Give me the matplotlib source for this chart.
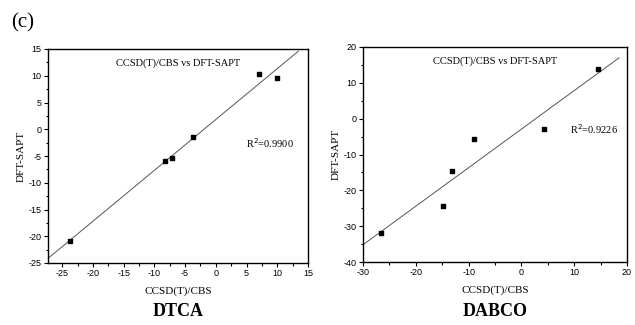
import numpy as np
import matplotlib
matplotlib.use("Agg")
import matplotlib.pyplot as plt
from matplotlib.ticker import MultipleLocator

plt.rcParams["axes.unicode_minus"] = False

# DTCA: CCSD(T)/CBS vs DFT-SAPT
dtca_x = [-23.7, -8.2, -7.2, -3.7, 7.0, 9.9]
dtca_y = [-20.8, -6.0, -5.4, -1.4, 10.4, 9.5]
dtca_r2 = "0.9900"

# DABCO
dabco_x = [-26.5, -14.9, -13.2, -9.0, 4.3, 14.5]
dabco_y = [-32.0, -24.3, -14.7, -5.7, -3.0, 14.0]
dabco_r2 = "0.9226"

serif = "Liberation Serif"
sans = "Liberation Sans"


def draw_panel(ax, x, y, r2, xlim, ylim, xmaj, ymaj, fit_end, r2_pos, name):
    ax.scatter(x, y, marker="s", s=9, color="black", zorder=3)
    k, b = np.polyfit(x, y, 1)
    xf = np.array([xlim[0], fit_end])
    ax.plot(xf, k * xf + b, color="#555555", lw=0.7)

    ax.set_xlim(*xlim)
    ax.set_ylim(*ylim)
    ax.xaxis.set_major_locator(MultipleLocator(xmaj))
    ax.xaxis.set_minor_locator(MultipleLocator(xmaj / 2))
    ax.yaxis.set_major_locator(MultipleLocator(ymaj))
    ax.yaxis.set_minor_locator(MultipleLocator(ymaj / 2))
    ax.tick_params(which="both", direction="out", width=0.8, labelsize=6.5, pad=1.5)
    ax.tick_params(which="major", length=3)
    ax.tick_params(which="minor", length=1.8)
    for lab in ax.get_xticklabels() + ax.get_yticklabels():
        lab.set_family(sans)
    for sp in ax.spines.values():
        sp.set_linewidth(1.0)

    ax.set_xlabel("CCSD(T)/CBS", family=serif, fontsize=8, labelpad=6)
    ax.set_ylabel("DFT-SAPT", family=serif, fontsize=8, labelpad=2)
    ax.text(0.5, 0.935, "CCSD(T)/CBS vs DFT-SAPT", transform=ax.transAxes,
            ha="center", va="center", family=serif, fontsize=7.5)
    ax.text(r2_pos[0], r2_pos[1], "R$^2$=" + r2, transform=ax.transAxes,
            ha="left", va="center", family=serif, fontsize=7.5)
    ax.text(0.5, -0.228, name, transform=ax.transAxes, ha="center", va="center",
            family=serif, fontsize=13, fontweight="bold")


fig = plt.figure(figsize=(6.35, 3.25), dpi=100)
ax1 = fig.add_axes([48 / 635, 1 - 263 / 325, 260 / 635, 214 / 325])
ax2 = fig.add_axes([363 / 635, 1 - 262 / 325, 264 / 635, 215 / 325])

draw_panel(ax1, dtca_x, dtca_y, dtca_r2, (-27.3, 15), (-25, 15), 5, 5,
           13.4, (0.76, 0.56), "DTCA")
draw_panel(ax2, dabco_x, dabco_y, dabco_r2, (-30, 20), (-40, 20), 10, 10,
           18.5, (0.785, 0.62), "DABCO")

fig.text(11 / 635, 1 - 23 / 325, "(c)", family=serif, fontsize=15, va="center")

fig.savefig("out.png", dpi=100)
